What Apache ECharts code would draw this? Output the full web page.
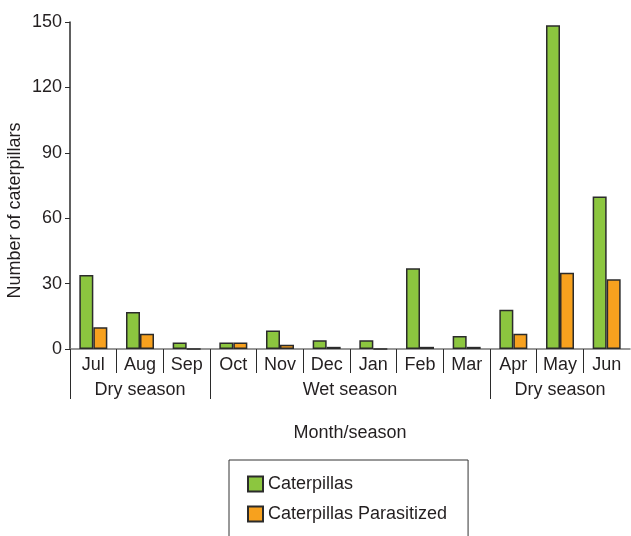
<!DOCTYPE html>
<html>
<head>
<meta charset="utf-8">
<script src="https://cdn.jsdelivr.net/npm/echarts@6/dist/echarts.min.js"></script>
<style>
  html, body { margin: 0; padding: 0; background: #fff; }
  #chart { width: 631px; height: 536px; }
</style>
</head>
<body>
<div id="chart"></div>
<script>
// data
var months = ['Jul', 'Aug', 'Sep', 'Oct', 'Nov', 'Dec', 'Jan', 'Feb', 'Mar', 'Apr', 'May', 'Jun'];
var caterpillars = [34, 17, 3, 3, 8.5, 4, 4, 37, 6, 18, 148.5, 70];
var parasitized = [10, 7, 0, 3, 2, 1, 0, 1, 1, 7, 35, 32];
var seasons = ['Dry season', 'Wet season', 'Dry season'];
var seasonStart = [0, 3, 9];   // first month index of each season
var seasonEnd = [3, 9, 12];
var yTicks = [0, 30, 60, 90, 120, 150];

var font = 'Liberation Sans, Arial, sans-serif';
var textColor = '#231f20';
var edge = '#2b2b2b';
var fs = 18;

// season label positions = centre of each span on a 0..12 value scale
var seasonAt = {};
seasons.forEach(function (s, i) {
  seasonAt[((seasonStart[i] + seasonEnd[i]) / 2).toFixed(1)] = s;
});
// month boundaries 0..12 (for the divider ticks)
var boundaries = [];
for (var b = 0; b <= months.length; b++) boundaries.push(String(b));

function dividerAxis(len, pick) {
  return {
    type: 'category',
    data: boundaries,
    boundaryGap: false,
    position: 'bottom',
    axisLine: { show: false },
    axisTick: { show: true, length: len, lineStyle: { color: edge }, interval: pick },
    axisLabel: { show: false }
  };
}

var chart = echarts.init(document.getElementById('chart'));
chart.setOption({
  animation: false,
  textStyle: { fontFamily: font },
  grid: { left: 70, right: 1, top: 22, bottom: 187, outerBoundsMode: 'none', containLabel: false },
  legend: {
    orient: 'vertical',
    left: 229,
    top: 460,
    height: 120,
    icon: 'rect',
    itemWidth: 15,
    itemHeight: 15,
    itemGap: 12,
    padding: [15, 21, 40, 18],
    borderColor: '#333',
    borderWidth: 1,
    textStyle: { fontSize: fs, color: textColor, fontFamily: font },
    data: ['Caterpillas', 'Caterpillas Parasitized']
  },
  xAxis: [
    {
      type: 'category',
      data: months,
      position: 'bottom',
      axisLine: { lineStyle: { color: '#777', width: 1.5 } },
      axisTick: { show: false },
      axisLabel: { fontSize: fs, color: textColor, margin: 7 }
    },
    // short month dividers
    dividerAxis(24, function (i) { return i > 0 && i < months.length && seasonStart.indexOf(i) < 0; }),
    // long season dividers
    dividerAxis(50, function (i) { return seasonStart.indexOf(i) >= 0; }),
    {
      type: 'value',
      min: 0,
      max: 12,
      interval: 1.5,
      position: 'bottom',
      offset: 26,
      axisLine: { show: false },
      axisTick: { show: false },
      splitLine: { show: false },
      axisLabel: {
        fontSize: fs,
        color: textColor,
        margin: 6,
        formatter: function (v) { return seasonAt[v.toFixed(1)] || ''; }
      },
      name: 'Month/season',
      nameLocation: 'middle',
      nameGap: 49,
      nameTextStyle: { fontSize: fs, color: textColor }
    }
  ],
  yAxis: {
    type: 'value',
    min: yTicks[0],
    max: yTicks[yTicks.length - 1],
    interval: 30,
    axisLine: { show: true, lineStyle: { color: edge, width: 1.5 } },
    axisTick: { show: true, length: 5, lineStyle: { color: edge } },
    splitLine: { show: false },
    axisLabel: { fontSize: fs, color: textColor, margin: 8 },
    name: 'Number of caterpillars',
    nameLocation: 'middle',
    nameGap: 46,
    nameMoveOverlap: false,
    nameTextStyle: { fontSize: fs, color: textColor, padding: [0, 50, 0, 0] }
  },
  series: [
    {
      name: 'Caterpillas',
      type: 'bar',
      xAxisIndex: 0,
      data: caterpillars,
      barWidth: 14,
      barGap: '0%',
      itemStyle: { color: '#8cc63f', borderColor: edge, borderWidth: 1.5 }
    },
    {
      name: 'Caterpillas Parasitized',
      type: 'bar',
      xAxisIndex: 0,
      data: parasitized,
      barWidth: 14,
      barGap: '0%',
      itemStyle: { color: '#f7a11e', borderColor: edge, borderWidth: 1.5 }
    }
  ]
});
</script>
</body>
</html>
